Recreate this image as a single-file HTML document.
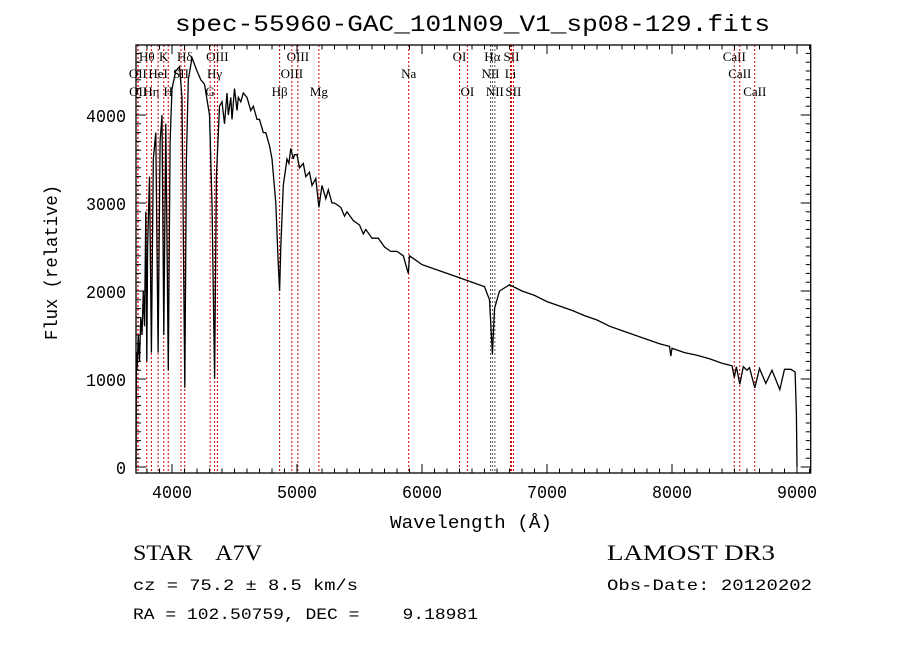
<!DOCTYPE html>
<html><head><meta charset="utf-8"><style>
body{margin:0;background:#fff;}
svg{display:block;font-family:"Liberation Mono",monospace;}
</style></head><body>
<svg id="chart" width="900" height="649" viewBox="0 0 900 649" xmlns="http://www.w3.org/2000/svg">
<rect width="900" height="649" fill="#fff"/>
<text x="175" y="31" font-size="23" textLength="595" lengthAdjust="spacingAndGlyphs">spec-55960-GAC_101N09_V1_sp08-129.fits</text>
<g id="lines"></g>
<g id="axes"></g>
<polyline id="spec" fill="none" stroke="#000" stroke-width="1.3"/>
<text x="390" y="528" font-size="18" textLength="162" lengthAdjust="spacingAndGlyphs">Wavelength (Å)</text>
<text transform="translate(57,340) rotate(-90)" font-size="18" textLength="155" lengthAdjust="spacingAndGlyphs">Flux (relative)</text>
<text x="133" y="560" font-size="22" font-family="Liberation Serif, serif" textLength="129" lengthAdjust="spacingAndGlyphs" xml:space="preserve">STAR    A7V</text>
<text x="133" y="590" font-size="16" textLength="225" lengthAdjust="spacingAndGlyphs">cz = 75.2 ± 8.5 km/s</text>
<text x="133" y="619" font-size="16" textLength="345" lengthAdjust="spacingAndGlyphs" xml:space="preserve">RA = 102.50759, DEC =    9.18981</text>
<text x="607" y="560" font-size="22" font-family="Liberation Serif, serif" textLength="168" lengthAdjust="spacingAndGlyphs">LAMOST DR3</text>
<text x="607" y="590" font-size="16" textLength="205" lengthAdjust="spacingAndGlyphs">Obs-Date: 20120202</text>
</svg>
<script>
const wave=[3712,3715,3720,3730,3740,3750,3760,3770,3780,3790,3798,3805,3820,3835,3850,3870,3889,3905,3920,3934,3950,3970,3985,4000,4030,4060,4080,4102,4115,4130,4160,4200,4230,4260,4300,4320,4341,4355,4380,4400,4420,4440,4450,4470,4480,4500,4520,4530,4550,4570,4600,4630,4650,4680,4700,4730,4750,4780,4800,4830,4850,4861,4870,4890,4920,4935,4950,4970,4980,5000,5020,5050,5070,5100,5120,5150,5175,5200,5230,5250,5280,5300,5350,5380,5400,5450,5500,5530,5550,5600,5650,5700,5750,5800,5850,5890,5900,5950,6000,6100,6200,6300,6400,6500,6540,6563,6580,6620,6700,6800,6900,7000,7100,7200,7300,7400,7500,7600,7700,7800,7900,7980,7990,8000,8100,8200,8300,8400,8480,8498,8515,8542,8570,8600,8620,8662,8700,8750,8800,8862,8900,8950,8985,8995,9000];
const flux=[0,1300,1100,1500,1200,1700,1500,2000,1600,2900,1200,2500,3300,1300,3500,3800,1300,3700,4000,1500,3900,1100,3700,4300,4500,4550,4200,900,3500,4400,4650,4500,4400,4350,4000,3000,1000,3300,4100,4150,3900,4250,4000,4200,3950,4300,4050,4200,4150,4250,4200,4050,4100,3950,3950,3800,3800,3650,3500,3000,2300,2000,2500,3200,3500,3450,3620,3500,3550,3550,3400,3450,3300,3350,3200,3280,2950,3200,3050,3150,3000,3000,2950,2850,2900,2800,2750,2650,2700,2600,2600,2500,2450,2450,2400,2200,2400,2350,2300,2250,2200,2150,2100,2050,1900,1280,1800,2000,2070,2000,1950,1880,1830,1780,1720,1670,1600,1550,1500,1450,1400,1370,1260,1350,1300,1270,1230,1180,1150,1020,1140,940,1140,1100,1130,900,1120,950,1100,880,1110,1110,1080,600,0];
const lineWaves=[3727,3729,3798,3835,3889,3934,3970,4072,4102,4305,4341,4363,4861,4959,5007,5175,5894,6300,6363,6548,6563,6583,6708,6716,6731,8498,8542,8662];
const lineLabels=["OII","OII","Hθ","Hη","HeI","K","H","SII","Hδ","G","Hγ","OIII","Hβ","OIII","OIII","Mg","Na","OI","OI","NII","Hα","NII","Li","SII","SII","CaII","CaII","CaII"];
const lineRows=[2,3,1,3,2,1,3,2,1,3,2,1,3,2,1,3,2,1,3,2,1,3,2,1,3,1,2,3];
const xTicks=[4000,5000,6000,7000,8000,9000];
const yTicks=[0,1000,2000,3000,4000];
const X0=136,X1=810.7,Y0=45,Y1=473;
function xs(w){return 172+(w-4000)*0.125;}
function ys(f){return 467-f*0.088;}
const NS="http://www.w3.org/2000/svg";
function mk(tag,attrs,parent){const e=document.createElementNS(NS,tag);for(const k in attrs)e.setAttribute(k,attrs[k]);parent.appendChild(e);return e;}
const axes=document.getElementById('axes');
const frame=mk('rect',{x:X0,y:Y0,width:X1-X0,height:Y1-Y0,fill:'none',stroke:'#000','stroke-width':1.3},axes);


for(let w=3800;w<=9100;w+=100){const x=xs(w);if(x<X0||x>X1)continue;const major=w%1000===0;const L=major?9:4.5;
 mk('line',{x1:x,x2:x,y1:Y1,y2:Y1-L,stroke:'#000'},axes);mk('line',{x1:x,x2:x,y1:Y0,y2:Y0+L,stroke:'#000'},axes);}
xTicks.forEach(t=>{const tx=mk('text',{x:xs(t)-20,y:498,'font-size':18,textLength:40,lengthAdjust:'spacingAndGlyphs'},axes);tx.textContent=t;
 
 });
for(let f=0;f<=4700;f+=100){const y=ys(f);if(y<Y0||y>Y1)continue;const major=f%1000===0;const L=major?10:5;
 mk('line',{x1:X0,x2:X0+L,y1:y,y2:y,stroke:'#000'},axes);mk('line',{x1:X1,x2:X1-L,y1:y,y2:y,stroke:'#000'},axes);}
yTicks.forEach(t=>{const s=String(t);const w=s.length*10;const ty=mk('text',{x:126-w,y:ys(t)+7,'font-size':18,textLength:w,lengthAdjust:'spacingAndGlyphs'},axes);ty.textContent=s;
 
 });
const lg=document.getElementById('lines');
const rowY=[0,61,78,96];
lineWaves.forEach((w,i)=>{const x=xs(w);const grey=(w>=6540&&w<=6590);
 const l=mk('line',{x1:x,x2:x,y1:Y0,y2:Y1,stroke:grey?'#555':'#c00','stroke-width':1,'stroke-dasharray':'2,2'},lg);
 
 
 const t=mk('text',{x:x,y:rowY[lineRows[i]],'font-size':13,'text-anchor':'middle','font-family':'Liberation Serif, serif'},lg);t.textContent=lineLabels[i];
 
 });
document.getElementById('spec').setAttribute('points',wave.map((w,i)=>xs(w).toFixed(1)+','+ys(flux[i]).toFixed(1)).join(' '));
</script>
</body></html>
